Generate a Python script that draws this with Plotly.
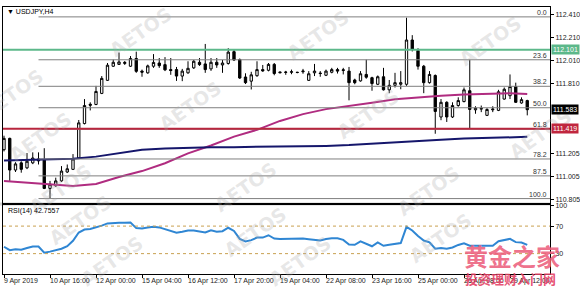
import plotly.graph_objects as go

W, H = 580, 290

# ---------------- data (USDJPY H4) ----------------
bars = list(range(92))
opens = [111.237, 111.335, 111.061, 111.123, 111.080, 111.123, 111.157, 111.146, 110.902, 110.925,
         110.967, 111.044, 111.067, 111.165, 111.463, 111.630, 111.628, 111.724, 111.837, 111.959,
         111.975, 111.983, 111.959, 112.026, 111.917, 111.902, 111.959, 111.987, 111.973, 111.930,
         111.930, 111.874, 111.902, 111.945, 111.993, 111.979, 111.936, 111.993, 111.970, 111.983,
         112.085, 112.017, 111.866, 111.830, 111.877, 111.930, 111.924, 111.975, 111.902, 111.905,
         111.907, 111.907, 111.911, 111.837, 111.902, 111.900, 111.881, 111.907, 111.930, 111.922,
         111.917, 111.840, 111.832, 111.888, 111.860, 111.803, 111.868, 111.755, 111.794, 111.803,
         111.803, 112.186, 112.095, 111.959, 111.817, 111.879, 111.520, 111.647, 111.520, 111.619,
         111.653, 111.747, 111.582, 111.588, 111.534, 111.582, 111.577, 111.675, 111.704, 111.783,
         111.641, 111.662]
highs = [111.358, 111.341, 111.129, 111.137, 111.208, 111.214, 111.214, 111.250, 110.967, 110.995,
         111.095, 111.109, 111.199, 111.494, 111.675, 111.647, 111.789, 111.874, 111.987, 112.016,
         112.078, 112.004, 112.047, 112.085, 111.930, 111.973, 112.064, 112.030, 112.038, 112.030,
         111.953, 111.936, 112.002, 112.013, 112.030, 112.152, 112.030, 112.030, 112.013, 112.115,
         112.106, 112.026, 111.898, 111.911, 112.002, 111.970, 111.987, 111.987, 111.911, 111.919,
         111.930, 111.911, 111.936, 111.917, 111.979, 111.917, 111.930, 111.945, 111.945, 111.945,
         111.953, 111.851, 111.917, 112.016, 111.868, 111.879, 111.945, 111.840, 111.902, 111.917,
         112.379, 112.228, 112.115, 111.970, 111.917, 111.888, 111.675, 111.656, 111.647, 111.690,
         111.775, 112.016, 111.613, 111.619, 111.596, 111.613, 111.755, 111.775, 111.888, 111.817,
         111.690, 111.669]
lows = [111.222, 110.967, 111.044, 111.038, 111.069, 111.112, 111.109, 110.896, 110.817, 110.916,
        110.959, 111.035, 111.061, 111.158, 111.456, 111.577, 111.622, 111.718, 111.832, 111.953,
        111.970, 111.970, 111.953, 111.902, 111.868, 111.894, 111.945, 111.945, 111.917, 111.885,
        111.832, 111.830, 111.894, 111.936, 111.962, 111.902, 111.919, 111.945, 111.902, 111.973,
        112.004, 111.849, 111.805, 111.758, 111.868, 111.911, 111.915, 111.881, 111.898, 111.885,
        111.890, 111.898, 111.894, 111.832, 111.874, 111.868, 111.874, 111.898, 111.896, 111.888,
        111.664, 111.803, 111.826, 111.851, 111.747, 111.796, 111.749, 111.726, 111.775, 111.760,
        111.789, 112.087, 111.930, 111.726, 111.809, 111.375, 111.492, 111.477, 111.511, 111.609,
        111.647, 111.415, 111.548, 111.562, 111.528, 111.562, 111.571, 111.670, 111.675, 111.641,
        111.635, 111.534]
closes = [111.335, 111.061, 111.114, 111.067, 111.137, 111.165, 111.140, 110.902, 110.939, 110.967,
          111.052, 111.072, 111.157, 111.469, 111.619, 111.622, 111.741, 111.854, 111.968, 111.993,
          111.996, 111.992, 112.026, 111.915, 111.908, 111.962, 111.992, 111.964, 111.928, 111.922,
          111.874, 111.917, 111.941, 112.002, 111.973, 111.930, 111.993, 111.970, 111.987, 112.081,
          112.013, 111.857, 111.817, 111.885, 111.930, 111.919, 111.975, 111.896, 111.908, 111.908,
          111.911, 111.905, 111.917, 111.894, 111.917, 111.896, 111.917, 111.930, 111.917, 111.928,
          111.817, 111.817, 111.894, 111.864, 111.809, 111.868, 111.755, 111.794, 111.817, 111.817,
          112.186, 112.106, 111.959, 111.817, 111.888, 111.568, 111.647, 111.520, 111.619, 111.662,
          111.755, 111.585, 111.596, 111.594, 111.585, 111.588, 111.738, 111.760, 111.783, 111.647,
          111.670, 111.583]

ma_bars = [0, 4, 8, 12, 16, 20, 24, 28, 32, 36, 40, 44, 48, 52, 56, 60, 64, 68, 72, 76, 80, 84, 88, 91]
ma_magenta = [110.967, 110.954, 110.937, 110.922, 110.941, 111.001, 111.052, 111.120, 111.205, 111.273,
              111.350, 111.409, 111.486, 111.545, 111.588, 111.613, 111.643, 111.673, 111.690, 111.704,
              111.715, 111.721, 111.725, 111.719]
ma_navy = [111.143, 111.147, 111.152, 111.158, 111.177, 111.209, 111.236, 111.248, 111.254, 111.258,
           111.259, 111.261, 111.264, 111.266, 111.270, 111.277, 111.290, 111.300, 111.311, 111.324,
           111.333, 111.339, 111.345, 111.348]

rsi = [40.0, 35.0, 36.4, 35.7, 38.1, 40.4, 40.4, 31.4, 32.9, 35.0,
       37.1, 40.7, 48.6, 60.7, 65.0, 65.7, 67.9, 70.7, 73.9, 74.7,
       74.7, 74.7, 75.3, 67.1, 66.7, 67.9, 69.0, 68.1, 65.7, 62.9,
       60.4, 61.9, 63.6, 63.6, 62.4, 60.7, 63.9, 61.9, 62.6, 67.6,
       62.9, 51.4, 47.6, 49.6, 53.3, 53.3, 56.7, 51.9, 51.4, 51.4,
       51.4, 52.1, 52.1, 51.0, 50.3, 49.0, 51.1, 52.4, 52.4, 50.0,
       43.3, 42.9, 47.9, 44.3, 40.7, 46.4, 41.4, 42.9, 44.6, 45.3,
       69.0, 63.6, 55.7, 49.0, 46.4, 37.1, 38.3, 37.1, 39.0, 42.6,
       45.0, 41.4, 41.4, 41.7, 41.4, 41.4, 47.9, 50.0, 51.4, 46.7,
       46.1, 42.7557]

x_label_bars = [0, 8, 16, 24, 32, 40, 48, 56, 64, 72, 80, 88]
x_labels = ["9 Apr 2019", "10 Apr 16:00", "12 Apr 00:00", "15 Apr 04:00", "16 Apr 12:00",
            "17 Apr 20:00", "19 Apr 04:00", "22 Apr 08:00", "23 Apr 16:00", "25 Apr 00:00",
            "26 Apr 08:00", "29 Apr 12:00"]

price_ticks = [112.410, 112.210, 112.010, 111.810, 111.205, 111.005, 110.805]
price_tick_text = ["112.410", "112.210", "112.010", "111.810", "111.205", "111.005", "110.805"]

fib_levels = [0.0, 23.6, 38.2, 50.0, 61.8, 78.2, 87.5, 100.0]
fib_labels = ["0.0", "23.6", "38.2", "50.0", "61.8", "78.2", "87.5", "100.0"]
fib_high = 112.386
fib_low = 110.814
fib_start_bar = 6

green_level = 112.101
red_level = 111.419
last_price = 111.583

rsi_ticks = [100, 70, 30]
rsi_levels = [70, 30]
rsi_name = "RSI(14) 42.7557"
title = "\u25bc USDJPY,H4"

# ---------------- layout geometry (pixels) ----------------
def px_x(x):
    return x / W

def px_y(y):
    return 1 - y / H

X_LEFT, X_RIGHT = 3, 550
MAIN_TOP, MAIN_BOT = 3, 202
RSI_TOP, RSI_BOT = 205, 275
BAR0_PX, BAR_STEP = 4.0, 5.75
PRICE_AT_TOP, PRICE_AT_BOT = 112.472, 110.780

x_range = [(X_LEFT - BAR0_PX) / BAR_STEP, (X_RIGHT - BAR0_PX) / BAR_STEP]

FONT = "Liberation Sans"

fig = go.Figure()

fig.add_trace(go.Candlestick(
    x=bars, open=opens, high=highs, low=lows, close=closes,
    increasing=dict(line=dict(color="black", width=1), fillcolor="white"),
    decreasing=dict(line=dict(color="black", width=1), fillcolor="black"),
    whiskerwidth=0, xaxis="x", yaxis="y", showlegend=False, hoverinfo="skip"))

fig.add_trace(go.Scatter(x=ma_bars, y=ma_magenta, mode="lines",
                         line=dict(color="#B02C80", width=2), xaxis="x", yaxis="y",
                         showlegend=False, hoverinfo="skip"))
fig.add_trace(go.Scatter(x=ma_bars, y=ma_navy, mode="lines",
                         line=dict(color="#15166B", width=2), xaxis="x", yaxis="y",
                         showlegend=False, hoverinfo="skip"))

fig.add_trace(go.Scatter(x=bars, y=rsi, mode="lines",
                         line=dict(color="#2F86D3", width=2), xaxis="x2", yaxis="y2",
                         showlegend=False, hoverinfo="skip"))

shapes = []
annotations = []

# watermarks
wm = [(140, 28), (318, 32), (490, 38), (12, 92), (190, 104), (368, 112), (540, 132),
      (40, 135), (60, 188), (245, 186), (428, 190), (80, 220), (112, 262), (255, 232),
      (440, 238), (300, 262)]
for (wx, wy) in wm:
    annotations.append(dict(x=px_x(wx), y=px_y(wy), xref="paper", yref="paper",
                            xanchor="center", yanchor="middle",
                            text="<b>AETOS</b>", showarrow=False, textangle=-35,
                            font=dict(family="DejaVu Sans", size=19,
                                      color="rgba(170,170,170,0.28)")))

# fibonacci lines
fib_range = fib_high - fib_low
for lvl, lab in zip(fib_levels, fib_labels):
    price = fib_high - lvl / 100.0 * fib_range
    shapes.append(dict(type="line", xref="x", yref="y", x0=fib_start_bar, x1=x_range[1],
                       y0=price, y1=price, line=dict(color="#7f7f7f", width=1)))
    annotations.append(dict(x=px_x(549), y=price, xref="paper", yref="y", text=lab,
                            showarrow=False, xanchor="right", yanchor="bottom", yshift=-1,
                            font=dict(family=FONT, size=7, color="#333333")))

# horizontal price lines
shapes.append(dict(type="line", xref="x", yref="y", x0=x_range[0], x1=x_range[1],
                   y0=green_level, y1=green_level, line=dict(color="#5CB88A", width=2)))
shapes.append(dict(type="line", xref="x", yref="y", x0=x_range[0], x1=x_range[1],
                   y0=red_level, y1=red_level, line=dict(color="#B8263E", width=2)))

# RSI level lines
for lv in rsi_levels:
    shapes.append(dict(type="line", xref="x2", yref="y2", x0=x_range[0], x1=x_range[1],
                       y0=lv, y1=lv, line=dict(color="#C9A050", width=1, dash="dot")))

# pane separator
shapes.append(dict(type="rect", xref="paper", yref="paper", x0=0, x1=px_x(X_RIGHT),
                   y0=px_y(RSI_TOP), y1=px_y(MAIN_BOT), fillcolor="#d4d4d4",
                   line=dict(width=0), layer="below"))

# price boxes on the right scale
for val, bg in [(green_level, "#5CB88A"), (last_price, "#000000"), (red_level, "#C0263E")]:
    annotations.append(dict(x=px_x(X_RIGHT + 1), y=val, xref="paper", yref="y",
                            text="%.3f" % val, showarrow=False, xanchor="left",
                            yanchor="middle", bgcolor=bg, borderpad=1,
                            font=dict(family=FONT, size=7, color="white")))

# x labels (left aligned at their bar, like MT4)
for b, t in zip(x_label_bars, x_labels):
    annotations.append(dict(x=b, y=px_y(282), xref="x2", yref="paper", text=t,
                            showarrow=False, xanchor="left", yanchor="middle", xshift=-2,
                            font=dict(family=FONT, size=7, color="#222222")))

# titles
annotations.append(dict(x=px_x(5), y=px_y(8), xref="paper", yref="paper", text=title,
                        showarrow=False, xanchor="left", yanchor="middle",
                        font=dict(family=FONT, size=7, color="black")))
annotations.append(dict(x=px_x(6), y=px_y(211), xref="paper", yref="paper", text=rsi_name,
                        showarrow=False, xanchor="left", yanchor="middle",
                        font=dict(family=FONT, size=7, color="black")))

# Chinese site watermark
annotations.append(dict(x=px_x(512), y=px_y(256), xref="paper", yref="paper",
                        xanchor="center", yanchor="middle",
                        text="<b>黄金之家</b>", showarrow=False,
                        font=dict(family="Noto Sans CJK SC", size=24,
                                  color="rgba(236,96,125,0.9)")))
annotations.append(dict(x=px_x(510), y=px_y(279), xref="paper", yref="paper",
                        xanchor="center", yanchor="middle",
                        text="<b>投资理财入门网</b>", showarrow=False,
                        font=dict(family="Noto Sans CJK SC", size=13,
                                  color="rgba(228,64,100,0.9)")))

axis_common = dict(showgrid=False, zeroline=False, showline=True, linecolor="black",
                   linewidth=1, mirror=True)

fig.update_layout(
    width=W, height=H, margin=dict(l=0, r=0, t=0, b=0),
    paper_bgcolor="white", plot_bgcolor="white",
    boxgap=0.42,
    xaxis=dict(domain=[px_x(X_LEFT), px_x(X_RIGHT)], range=x_range, anchor="y",
               showticklabels=False, ticks="", rangeslider=dict(visible=False), **axis_common),
    yaxis=dict(domain=[px_y(MAIN_BOT), px_y(MAIN_TOP)], range=[PRICE_AT_BOT, PRICE_AT_TOP],
               anchor="x", side="right", tickvals=price_ticks, ticktext=price_tick_text,
               ticks="outside", ticklen=3, tickcolor="black",
               tickfont=dict(family=FONT, size=7, color="#222222"), **axis_common),
    xaxis2=dict(domain=[px_x(X_LEFT), px_x(X_RIGHT)], range=x_range, anchor="y2",
                matches="x", tickvals=x_label_bars, ticks="outside", ticklen=3,
                tickcolor="black", showticklabels=False, **axis_common),
    yaxis2=dict(domain=[px_y(RSI_BOT), px_y(RSI_TOP)], range=[0, 100], anchor="x2",
                side="right", tickvals=rsi_ticks, ticks="outside", ticklen=3,
                tickcolor="black", tickfont=dict(family=FONT, size=7, color="#222222"),
                **axis_common),
    shapes=shapes, annotations=annotations, showlegend=False,
)

fig.write_html("out.html")
